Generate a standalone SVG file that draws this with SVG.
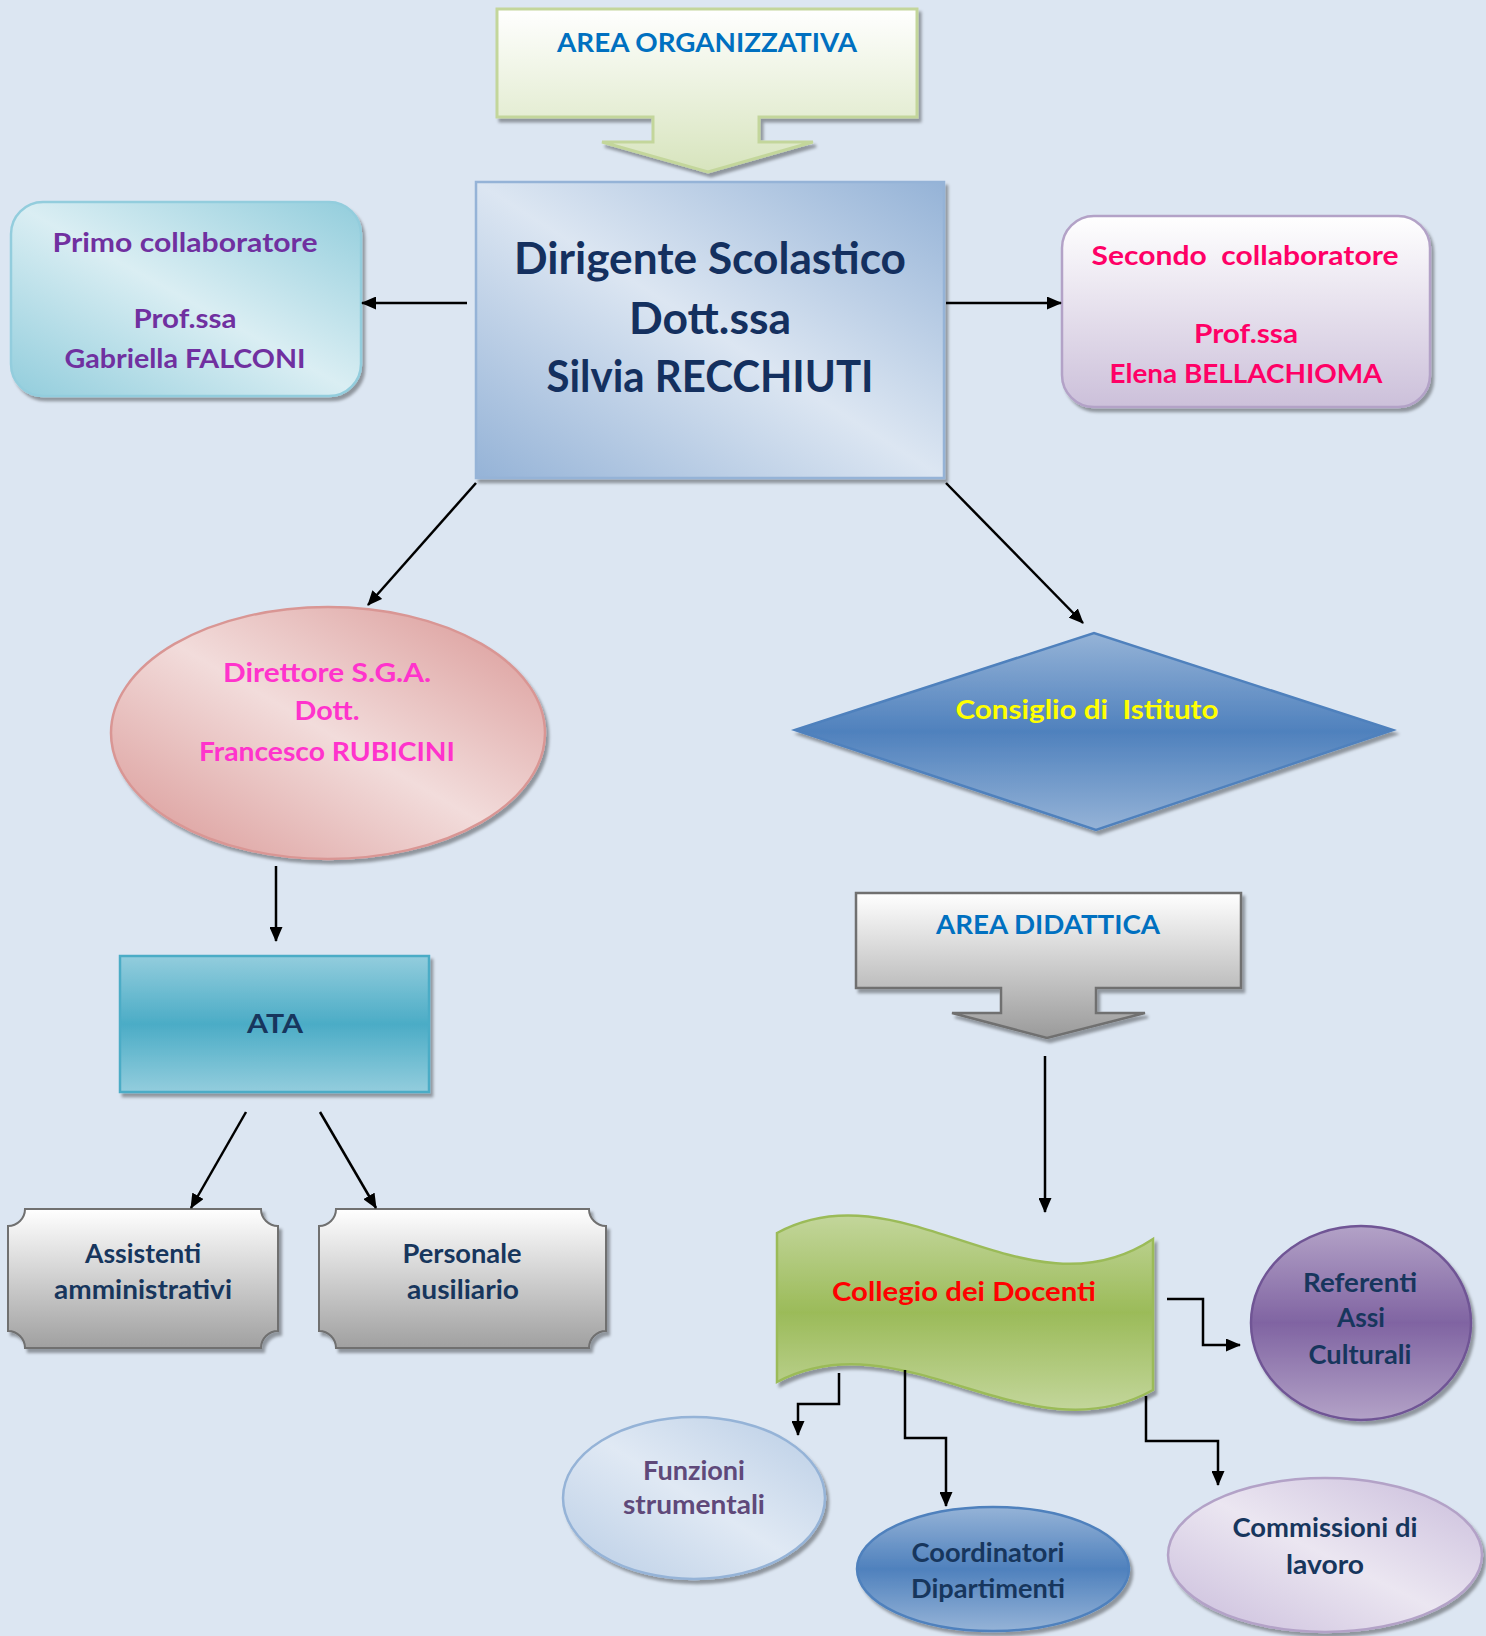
<svg xmlns="http://www.w3.org/2000/svg" width="1486" height="1636" viewBox="0 0 1486 1636">
<style>
text{font-family:Lato,"Liberation Sans",sans-serif;font-weight:bold;text-anchor:middle}
.t{font-size:26px}
.big{font-size:43px;fill:#14305f}
.navy{fill:#17365d}
.conn{fill:none;stroke:#000;stroke-width:2.5}
</style>
<defs>
<marker id="ah" markerUnits="userSpaceOnUse" markerWidth="15" markerHeight="13" refX="14" refY="6.5" orient="auto"><path d="M0,0 L15,6.5 L0,13 z" fill="#000"/></marker>
<filter id="sh" x="-10%" y="-10%" width="125%" height="130%"><feDropShadow dx="3" dy="4" stdDeviation="1.5" flood-color="#000" flood-opacity="0.35"/></filter>
<linearGradient id="gOrg" x1="0" y1="0" x2="0" y2="1"><stop offset="0" stop-color="#ffffff"/><stop offset="1" stop-color="#d7e4bd"/></linearGradient>
<linearGradient id="gDid" x1="0" y1="0" x2="0" y2="1"><stop offset="0" stop-color="#ffffff"/><stop offset="1" stop-color="#9a9a9a"/></linearGradient>
<linearGradient id="gDir" x1="1" y1="0" x2="0" y2="1"><stop offset="0" stop-color="#95b3d7"/><stop offset="0.5" stop-color="#dce6f2"/><stop offset="1" stop-color="#95b3d7"/></linearGradient>
<linearGradient id="gPri" x1="1" y1="0" x2="0" y2="1"><stop offset="0" stop-color="#92cddc"/><stop offset="0.5" stop-color="#daeef3"/><stop offset="1" stop-color="#92cddc"/></linearGradient>
<linearGradient id="gSec" x1="0" y1="0" x2="0" y2="1"><stop offset="0" stop-color="#ffffff"/><stop offset="1" stop-color="#ccc0da"/></linearGradient>
<linearGradient id="gDsga" x1="1" y1="0" x2="0" y2="1"><stop offset="0" stop-color="#d99694"/><stop offset="0.5" stop-color="#f2dcdb"/><stop offset="1" stop-color="#d99694"/></linearGradient>
<linearGradient id="gCons" x1="0" y1="0" x2="0" y2="1"><stop offset="0" stop-color="#95b3d7"/><stop offset="0.5" stop-color="#4f81bd"/><stop offset="1" stop-color="#95b3d7"/></linearGradient>
<linearGradient id="gAta" x1="0" y1="0" x2="0" y2="1"><stop offset="0" stop-color="#93cddd"/><stop offset="0.5" stop-color="#4bacc6"/><stop offset="1" stop-color="#93cddd"/></linearGradient>
<linearGradient id="gGrey" x1="0" y1="0" x2="0" y2="1"><stop offset="0" stop-color="#ffffff"/><stop offset="1" stop-color="#a0a0a0"/></linearGradient>
<linearGradient id="gCol" x1="0" y1="0" x2="0" y2="1"><stop offset="0" stop-color="#c3d69b"/><stop offset="0.5" stop-color="#9bbb59"/><stop offset="1" stop-color="#c3d69b"/></linearGradient>
<linearGradient id="gRef" x1="0" y1="0" x2="0" y2="1"><stop offset="0" stop-color="#b3a2c7"/><stop offset="0.5" stop-color="#8064a2"/><stop offset="1" stop-color="#b3a2c7"/></linearGradient>
<linearGradient id="gFun" x1="1" y1="0" x2="0" y2="1"><stop offset="0" stop-color="#b9cde5"/><stop offset="0.5" stop-color="#e0e9f4"/><stop offset="1" stop-color="#b9cde5"/></linearGradient>
<linearGradient id="gCoo" x1="0" y1="0" x2="0" y2="1"><stop offset="0" stop-color="#95b3d7"/><stop offset="0.5" stop-color="#4f81bd"/><stop offset="1" stop-color="#95b3d7"/></linearGradient>
<linearGradient id="gCom" x1="1" y1="0" x2="0" y2="1"><stop offset="0" stop-color="#c9bcdb"/><stop offset="0.5" stop-color="#ebe6f1"/><stop offset="1" stop-color="#c9bcdb"/></linearGradient>
</defs>
<rect width="1486" height="1636" fill="#dce6f2"/>

<g id="area-organizzativa">
<path d="M497,9 H917 V117 H759 V142 H813 L708,172 L602,142 H653 V117 H497 Z" fill="url(#gOrg)" stroke="#c3d69b" stroke-width="3" filter="url(#sh)"/>
<text class="t" x="707" y="52" fill="#0070c0" textLength="300" lengthAdjust="spacingAndGlyphs">AREA ORGANIZZATIVA</text>
</g>

<g id="dirigente">
<rect x="476" y="182" width="468" height="296" fill="url(#gDir)" stroke="#95b3d7" stroke-width="2.5" filter="url(#sh)"/>
<text class="big" x="710" y="274" textLength="392" lengthAdjust="spacingAndGlyphs">Dirigente Scolastico</text>
<text class="big" x="710" y="334" textLength="162" lengthAdjust="spacingAndGlyphs">Dott.ssa</text>
<text class="big" x="710" y="392" textLength="327" lengthAdjust="spacingAndGlyphs">Silvia RECCHIUTI</text>
</g>

<g id="primo-collaboratore">
<rect x="11" y="202" width="350" height="194" rx="32" fill="url(#gPri)" stroke="#93cddd" stroke-width="2.5" filter="url(#sh)"/>
<text class="t" x="185" y="252" fill="#7030a0" textLength="265" lengthAdjust="spacingAndGlyphs">Primo collaboratore</text>
<text class="t" x="185" y="328" fill="#7030a0" textLength="103" lengthAdjust="spacingAndGlyphs">Prof.ssa</text>
<text class="t" x="185" y="368" fill="#7030a0" textLength="241" lengthAdjust="spacingAndGlyphs">Gabriella FALCONI</text>
</g>

<g id="secondo-collaboratore">
<rect x="1062" y="216" width="368" height="191" rx="32" fill="url(#gSec)" stroke="#b3a2c7" stroke-width="2.5" filter="url(#sh)"/>
<text class="t" x="1245" y="265" fill="#ff0066" textLength="307" lengthAdjust="spacingAndGlyphs" xml:space="preserve">Secondo  collaboratore</text>
<text class="t" x="1246" y="343" fill="#ff0066" textLength="104" lengthAdjust="spacingAndGlyphs">Prof.ssa</text>
<text class="t" x="1246" y="383" fill="#ff0066" textLength="273" lengthAdjust="spacingAndGlyphs">Elena BELLACHIOMA</text>
</g>

<g id="direttore-sga">
<ellipse cx="328" cy="733" rx="217" ry="126" fill="url(#gDsga)" stroke="#d99694" stroke-width="2.5" filter="url(#sh)"/>
<text class="t" x="327" y="682" fill="#ff33cc" textLength="208" lengthAdjust="spacingAndGlyphs">Direttore S.G.A.</text>
<text class="t" x="327" y="720" fill="#ff33cc" textLength="65" lengthAdjust="spacingAndGlyphs">Dott.</text>
<text class="t" x="327" y="761" fill="#ff33cc" textLength="256" lengthAdjust="spacingAndGlyphs">Francesco RUBICINI</text>
</g>

<g id="consiglio-istituto">
<path d="M795,730 L1094,633 L1393,730 L1096,830 Z" fill="url(#gCons)" stroke="#4f81bd" stroke-width="2.5" filter="url(#sh)"/>
<text class="t" x="1087" y="719" fill="#ffff00" textLength="263" lengthAdjust="spacingAndGlyphs" xml:space="preserve">Consiglio di  Istituto</text>
</g>

<g id="ata">
<rect x="120" y="956" width="309" height="136" fill="url(#gAta)" stroke="#4bacc6" stroke-width="2.5" filter="url(#sh)"/>
<text class="t navy" x="275" y="1033" textLength="56" lengthAdjust="spacingAndGlyphs">ATA</text>
</g>

<g id="area-didattica">
<path d="M856,893 H1241 V988 H1096 V1013 H1145 L1047,1038 L952,1013 H1001 V988 H856 Z" fill="url(#gDid)" stroke="#707070" stroke-width="2.5" filter="url(#sh)"/>
<text class="t" x="1048" y="934" fill="#0070c0" textLength="224" lengthAdjust="spacingAndGlyphs">AREA DIDATTICA</text>
</g>

<g id="assistenti">
<path d="M25,1209 H261 A17,17 0 0 0 278,1226 V1331 A17,17 0 0 0 261,1348 H25 A17,17 0 0 0 8,1331 V1226 A17,17 0 0 0 25,1209 Z" fill="url(#gGrey)" stroke="#6f6f6f" stroke-width="2" filter="url(#sh)"/>
<text class="t navy" x="143" y="1263" textLength="116" lengthAdjust="spacingAndGlyphs">Assistenti</text>
<text class="t navy" x="143" y="1299" textLength="178" lengthAdjust="spacingAndGlyphs">amministrativi</text>
</g>

<g id="personale">
<path d="M336,1209 H589 A17,17 0 0 0 606,1226 V1331 A17,17 0 0 0 589,1348 H336 A17,17 0 0 0 319,1331 V1226 A17,17 0 0 0 336,1209 Z" fill="url(#gGrey)" stroke="#6f6f6f" stroke-width="2" filter="url(#sh)"/>
<text class="t navy" x="462" y="1263" textLength="119" lengthAdjust="spacingAndGlyphs">Personale</text>
<text class="t navy" x="463" y="1299" textLength="112" lengthAdjust="spacingAndGlyphs">ausiliario</text>
</g>

<g id="collegio">
<path d="M777,1233 C902,1165 1028,1322 1153,1239 V1390 C1028,1460 902,1316 777,1382 Z" fill="url(#gCol)" stroke="#9bbb59" stroke-width="2.5" filter="url(#sh)"/>
<text class="t" x="964" y="1301" fill="#ff0000" textLength="264" lengthAdjust="spacingAndGlyphs">Collegio dei Docenti</text>
</g>

<g id="referenti">
<ellipse cx="1361" cy="1323" rx="110" ry="97" fill="url(#gRef)" stroke="#705595" stroke-width="2.5" filter="url(#sh)"/>
<text class="t navy" x="1360" y="1292" textLength="114" lengthAdjust="spacingAndGlyphs">Referenti</text>
<text class="t navy" x="1361" y="1327" textLength="48" lengthAdjust="spacingAndGlyphs">Assi</text>
<text class="t navy" x="1360" y="1364" textLength="103" lengthAdjust="spacingAndGlyphs">Culturali</text>
</g>

<g id="funzioni">
<ellipse cx="694" cy="1498" rx="131" ry="81" fill="url(#gFun)" stroke="#95b3d7" stroke-width="2.5" filter="url(#sh)"/>
<text class="t" x="694" y="1480" fill="#5f497a" textLength="102" lengthAdjust="spacingAndGlyphs">Funzioni</text>
<text class="t" x="694" y="1514" fill="#5f497a" textLength="142" lengthAdjust="spacingAndGlyphs">strumentali</text>
</g>

<g id="coordinatori">
<ellipse cx="993" cy="1569" rx="136" ry="62" fill="url(#gCoo)" stroke="#4f81bd" stroke-width="2.5" filter="url(#sh)"/>
<text class="t navy" x="988" y="1562" textLength="153" lengthAdjust="spacingAndGlyphs">Coordinatori</text>
<text class="t navy" x="988" y="1598" textLength="154" lengthAdjust="spacingAndGlyphs">Dipartimenti</text>
</g>

<g id="commissioni">
<ellipse cx="1325" cy="1555" rx="157" ry="77" fill="url(#gCom)" stroke="#b3a2c7" stroke-width="2.5" filter="url(#sh)"/>
<text class="t navy" x="1325" y="1537" textLength="185" lengthAdjust="spacingAndGlyphs">Commissioni di</text>
<text class="t navy" x="1325" y="1574" textLength="78" lengthAdjust="spacingAndGlyphs">lavoro</text>
</g>

<g id="connectors">
<path class="conn" d="M467,303 H362" marker-end="url(#ah)"/>
<path class="conn" d="M946,303 H1061" marker-end="url(#ah)"/>
<path class="conn" d="M476,483 L368,605" marker-end="url(#ah)"/>
<path class="conn" d="M946,483 L1083,623" marker-end="url(#ah)"/>
<path class="conn" d="M276,866 V941" marker-end="url(#ah)"/>
<path class="conn" d="M246,1112 L191,1208" marker-end="url(#ah)"/>
<path class="conn" d="M320,1112 L376,1208" marker-end="url(#ah)"/>
<path class="conn" d="M1045,1056 V1212" marker-end="url(#ah)"/>
<path class="conn" d="M1167,1299 H1203 V1345 H1240" marker-end="url(#ah)"/>
<path class="conn" d="M839,1373 V1404 H798 V1435" marker-end="url(#ah)"/>
<path class="conn" d="M905,1370 V1438 H946 V1506" marker-end="url(#ah)"/>
<path class="conn" d="M1146,1396 V1441 H1218 V1485" marker-end="url(#ah)"/>
</g>
</svg>
